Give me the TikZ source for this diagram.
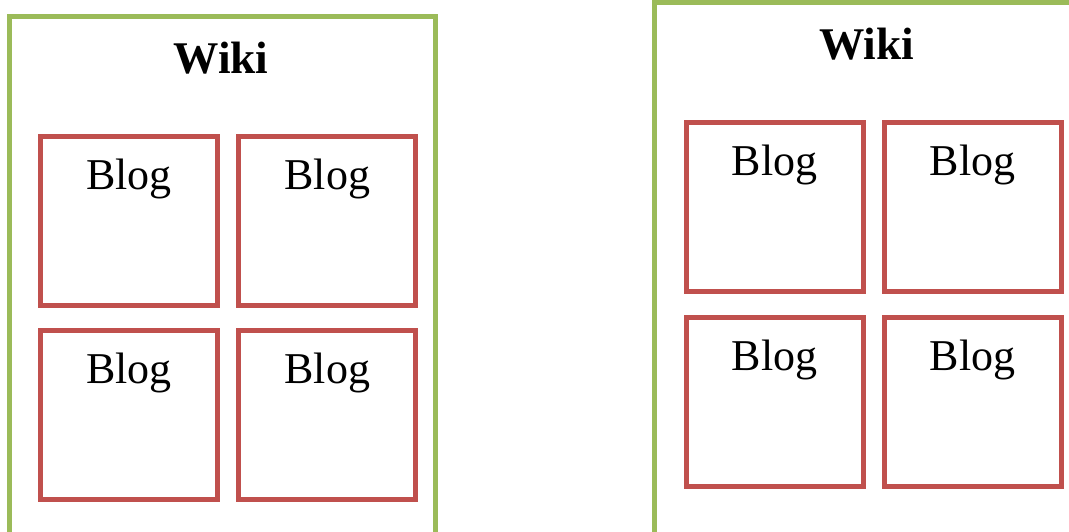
\documentclass[tikz,border=0pt]{standalone}
\usepackage{fontspec}
\setmainfont{Liberation Serif}
\usetikzlibrary{calc}
\definecolor{wikigreen}{HTML}{9BBB59}
\definecolor{blogred}{HTML}{C0504D}
\tikzset{
  wikibox/.style={draw=wikigreen, line width=3.75pt, fill=white},
  blogbox/.style={draw=blogred, line width=3.75pt, inner sep=0pt, outer sep=0pt,
    minimum width=132.75pt, minimum height=126.4pt},
  wikilabel/.style={anchor=base, inner sep=0pt, font=\fontsize{34}{40}\selectfont\bfseries},
  bloglabel/.style={anchor=base, inner sep=0pt, font=\fontsize{33}{39}\selectfont},
}
\begin{document}
\begin{tikzpicture}[x=0.75pt, y=-0.75pt]
  \useasboundingbox (0,0) rectangle (1069,531);
  \clip (0,0) rectangle (1069,531);
  % two identical panels, the second shifted right and up
  \foreach \p/\dx/\dy in {A/0/0, B/645.5/-13.5} {
    \begin{scope}[shift={(\dx,\dy)}]
      \draw[wikibox] (9,16.5) rectangle (435,560);
      \node[wikilabel] (wiki\p) at (221,73.3) {Wiki};
      \node[blogbox] (\p1) at (129,220.75) {};
      \node[blogbox] (\p2) at (327.25,220.75) {};
      \node[blogbox] (\p3) at (129,415.25) {};
      \node[blogbox] (\p4) at (327.25,415.25) {};
      \foreach \b in {1,2,3,4} {
        \node[bloglabel] (t\p\b) at ($(\p\b.north)+(0,53)$) {Blog};
      }
    \end{scope}
  }
\end{tikzpicture}
\end{document}
